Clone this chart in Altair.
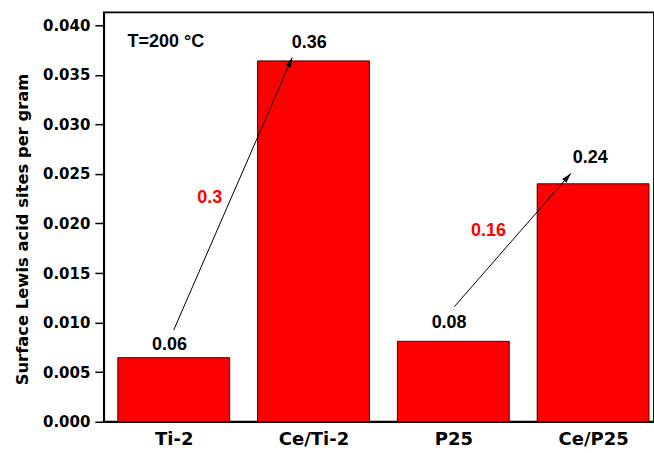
import math
import altair as alt
import pandas as pd

# ---- data ----
categories = ["Ti-2", "Ce/Ti-2", "P25", "Ce/P25"]
values = [0.00646, 0.0364, 0.00811, 0.0240]
bar_labels = ["0.06", "0.36", "0.08", "0.24"]
label_x = [-0.03, 0.97, 1.97, 2.98]
label_y = [0.00774, 0.03819, 0.00999, 0.02656]

arrow_x1 = [0.0, 2.007]
arrow_y1 = [0.00925, 0.0116]
arrow_x2 = [0.848, 2.841]
arrow_y2 = [0.03674, 0.02505]

ratio_text = ["0.3", "0.16"]
ratio_x = [0.257, 2.252]
ratio_y = [0.02253, 0.01926]

note_text = ["T=200 °C"]
note_x = [-0.33]
note_y = [0.03832]

y_ticks = [i * 0.0025 for i in range(17)]

# ---- layout ----
W, H = 551, 410
XMIN = -0.5
XMAX = XMIN + W / 140.0
YMAX = 0.0413
px_x = W / (XMAX - XMIN)
px_y = H / YMAX

xs = alt.Scale(domain=[XMIN, XMAX], nice=False, zero=False)
ys = alt.Scale(domain=[0, YMAX], nice=False, zero=True)

bars_df = pd.DataFrame({"idx": list(range(len(categories))), "cat": categories, "v": values})
lab_df = pd.DataFrame({"x": label_x, "y": label_y, "t": bar_labels})
arr_df = pd.DataFrame({"x1": arrow_x1, "y1": arrow_y1, "x2": arrow_x2, "y2": arrow_y2})
arr_df["ang"] = [
    math.degrees(math.atan2((b - a) * px_x, (d - c) * px_y)) % 360
    for a, b, c, d in zip(arrow_x1, arrow_x2, arrow_y1, arrow_y2)
]
rat_df = pd.DataFrame({"x": ratio_x, "y": ratio_y, "t": ratio_text})
note_df = pd.DataFrame({"x": note_x, "y": note_y, "t": note_text})

label_expr = "[" + ",".join("'" + c + "'" for c in categories) + "][datum.value]"

bars = (
    alt.Chart(bars_df)
    .transform_calculate(x0="datum.idx - 0.4", x1="datum.idx + 0.4")
    .mark_bar(color="#ff0000", stroke="#4a0000", strokeWidth=1)
    .encode(
        x=alt.X(
            "x0:Q",
            scale=xs,
            axis=alt.Axis(
                values=[0, 1, 2, 3],
                labelExpr=label_expr,
                title=None,
                grid=False,
                ticks=False,
                labelFont="DejaVu Sans",
                labelFontWeight="bold",
                labelFontSize=18,
                labelColor="black",
                labelPadding=9,
                domainColor="black",
                domainWidth=1.5,
            ),
        ),
        x2="x1:Q",
        y=alt.Y(
            "v:Q",
            scale=ys,
            axis=alt.Axis(
                values=y_ticks,
                labelExpr="round(datum.value*10000) % 50 == 0 ? format(datum.value, '.3f') : ''",
                tickSize={"condition": {"test": "round(datum.value*10000) % 50 == 0", "value": 9}, "value": 5},
                tickColor="black",
                tickWidth=1.5,
                grid=False,
                title="Surface Lewis acid sites per gram",
                titleFont="DejaVu Sans",
                titleFontWeight="bold",
                titleFontSize=16.4,
                titleColor="black",
                titlePadding=12,
                titleY=217,
                labelFont="DejaVu Sans",
                labelFontWeight="bold",
                labelFontSize=15,
                labelColor="black",
                labelPadding=5,
                domainColor="black",
                domainWidth=1.5,
            ),
        ),
        y2=alt.datum(0),
    )
)

labels = alt.Chart(lab_df).mark_text(
    font="Liberation Sans", fontWeight="bold", fontSize=18, color="black", baseline="middle"
).encode(x=alt.X("x:Q", scale=xs), y=alt.Y("y:Q", scale=ys), text="t:N")

arrows = alt.Chart(arr_df).mark_rule(color="black", strokeWidth=1).encode(
    x=alt.X("x1:Q", scale=xs), y=alt.Y("y1:Q", scale=ys), x2="x2:Q", y2="y2:Q"
)

heads = alt.Chart(arr_df).mark_point(
    shape="M0,0L-0.28,1L0.28,1Z", filled=True, color="black", opacity=1, size=400
).encode(x=alt.X("x2:Q", scale=xs), y=alt.Y("y2:Q", scale=ys), angle=alt.Angle("ang:Q", scale=None))

ratios = alt.Chart(rat_df).mark_text(
    font="Liberation Sans", fontWeight="bold", fontSize=18, color="#ff0000", baseline="middle"
).encode(x=alt.X("x:Q", scale=xs), y=alt.Y("y:Q", scale=ys), text="t:N")

note = alt.Chart(note_df).mark_text(
    font="Liberation Sans", fontWeight="bold", fontSize=18, color="black", baseline="middle", align="left"
).encode(x=alt.X("x:Q", scale=xs), y=alt.Y("y:Q", scale=ys), text="t:N")

chart = (
    alt.layer(bars, arrows, heads, labels, ratios, note)
    .properties(
        width=W,
        height=H,
        background="white",
        autosize=alt.AutoSizeParams(type="none"),
        padding={"left": 104, "top": 12, "right": 0, "bottom": 31},
    )
    .configure_view(stroke="black", strokeWidth=1.8)
)

chart.save("out.html", embed_options={"renderer": "svg", "actions": False})
